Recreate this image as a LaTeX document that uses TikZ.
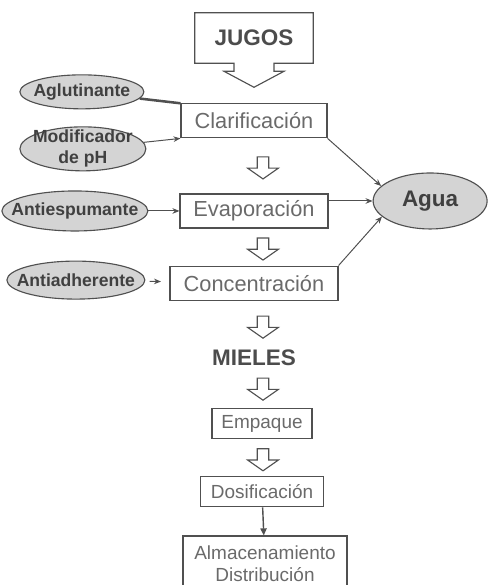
\documentclass[tikz,border=0pt]{standalone}
\usepackage{fontspec}
\setmainfont{Liberation Sans}
\usepackage{tikz}
\usetikzlibrary{arrows.meta, positioning, calc, shapes.geometric, shapes.arrows}
\definecolor{lineGray}{HTML}{505050}
\definecolor{textGray}{HTML}{6A6A6A}
\definecolor{fillGray}{HTML}{D4D4D4}

\begin{document}
\begin{tikzpicture}[
    node distance=1cm,
    box/.style={draw=lineGray, line width=0.8pt, text=textGray, inner sep=2pt,
                font=\fontsize{15.5}{17}\selectfont, minimum height=0.85cm},
    smallbox/.style={box, font=\fontsize{13.5}{15.5}\selectfont, minimum height=0.75cm},
    additive/.style={ellipse, draw=lineGray, line width=0.8pt, fill=fillGray,
                inner xsep=-2cm, inner ysep=-0.5cm, text=black!75, align=center,
                font=\fontsize{12.5}{15}\selectfont\bfseries},
    product/.style={font=\fontsize{16}{18}\selectfont\bfseries, text=black!70, inner sep=0pt},
    hollow/.style={single arrow, draw=lineGray, line width=0.8pt, shape border rotate=270,
                minimum height=0.55cm, minimum width=0.75cm, inner sep=0.13cm,
                single arrow head extend=0.24cm, single arrow tip angle=110},
    arr/.style={-{Stealth[length=5pt, width=4pt]}, draw=lineGray, line width=0.7pt},
  ]
  \useasboundingbox (0,0) rectangle (12.2,-14.625);

  % Input
  \node[product, minimum width=2.95cm, minimum height=1.25cm] (jugos) at (6.35,-0.95) {JUGOS};
  \draw[line width=0.8pt, draw=lineGray] (jugos.south west) |- (jugos.north east)
    |- ($(jugos.south)+(0.5,0)$) -- ++(0,-0.2) -- ++(0.25,0) -- ($(jugos.south)+(0,-0.6)$)
    -- ($(jugos.south)+(-0.75,-0.2)$) -- ++(0.25,0) -- ($(jugos.south)+(-0.5,0)$) -- cycle;

  % Process column
  \node[box, minimum width=3.65cm, below=1.0cm of jugos] (clar) {Clarificación};
  \node[box, minimum width=3.7cm, below=1.375cm of clar] (evap) {Evaporación};
  \node[box, minimum width=4.2cm, below=0.925cm of evap] (conc) {Concentración};
  \node[product, below=1.225cm of conc] (mieles) {MIELES};
  \node[smallbox, minimum width=2.5cm, below=1.05cm of mieles, xshift=0.2cm] (empaque) {Empaque};
  \node[smallbox, minimum width=3.075cm, below=0.925cm of empaque] (dosif) {Dosificación};
  \node[smallbox, minimum width=4.1cm, minimum height=1.4cm, align=center,
        below=0.7cm of dosif, xshift=0.075cm] (almac) {Almacenamiento\\Distribución};

  % Hollow arrows between steps
  \coordinate (axis) at ([xshift=0.225cm]clar.south);
  \foreach \a/\b [count=\i] in {clar/evap, evap/conc, conc/mieles, mieles/empaque, empaque/dosif} {
    \coordinate (m\i) at ($(\a.south)!0.5!(\b.north)$);
    \node[hollow] (h\i) at (axis |- m\i) {};
  }

  % Additives
  \node[additive, minimum width=3.1cm, minimum height=0.85cm, left=0.9cm of clar, yshift=0.725cm] (aglu) {Aglutinante};
  \node[additive, minimum width=3.15cm, minimum height=1.1cm, left=0.85cm of clar, yshift=-0.7cm] (modif) {Modificador\\de pH};
  \node[additive, minimum width=3.65cm, minimum height=1.0cm, left=0.775cm of evap] (antie) {Antiespumante};
  \node[additive, minimum width=3.45cm, minimum height=0.95cm, left=0.6cm of conc, yshift=0.075cm] (antia) {Antiadherente};

  % Water out
  \node[additive, font=\fontsize{16}{18}\selectfont\bfseries, minimum width=2.85cm, minimum height=1.4cm,
        right=1.1cm of evap, yshift=0.25cm] (agua) {Agua};

  % Arrows
  \draw[line width=1.8pt, lineGray] (aglu) -- (clar.north west);
  \draw[arr] (modif) -- (clar.south west);
  \draw[arr] (antie) -- (evap);
  \draw[arr, shorten <=3pt, shorten >=6pt] (antia) -- (conc);
  \draw[arr] (clar.south east) -- (agua.163);
  \draw[arr] (evap.east |- agua.west) -- (agua.west);
  \draw[arr] (conc.north east) -- (agua.198);
  \draw[arr, line width=1pt, -{Triangle[length=5pt, width=4.5pt]}] (dosif) -- (almac);

\end{tikzpicture}
\end{document}
